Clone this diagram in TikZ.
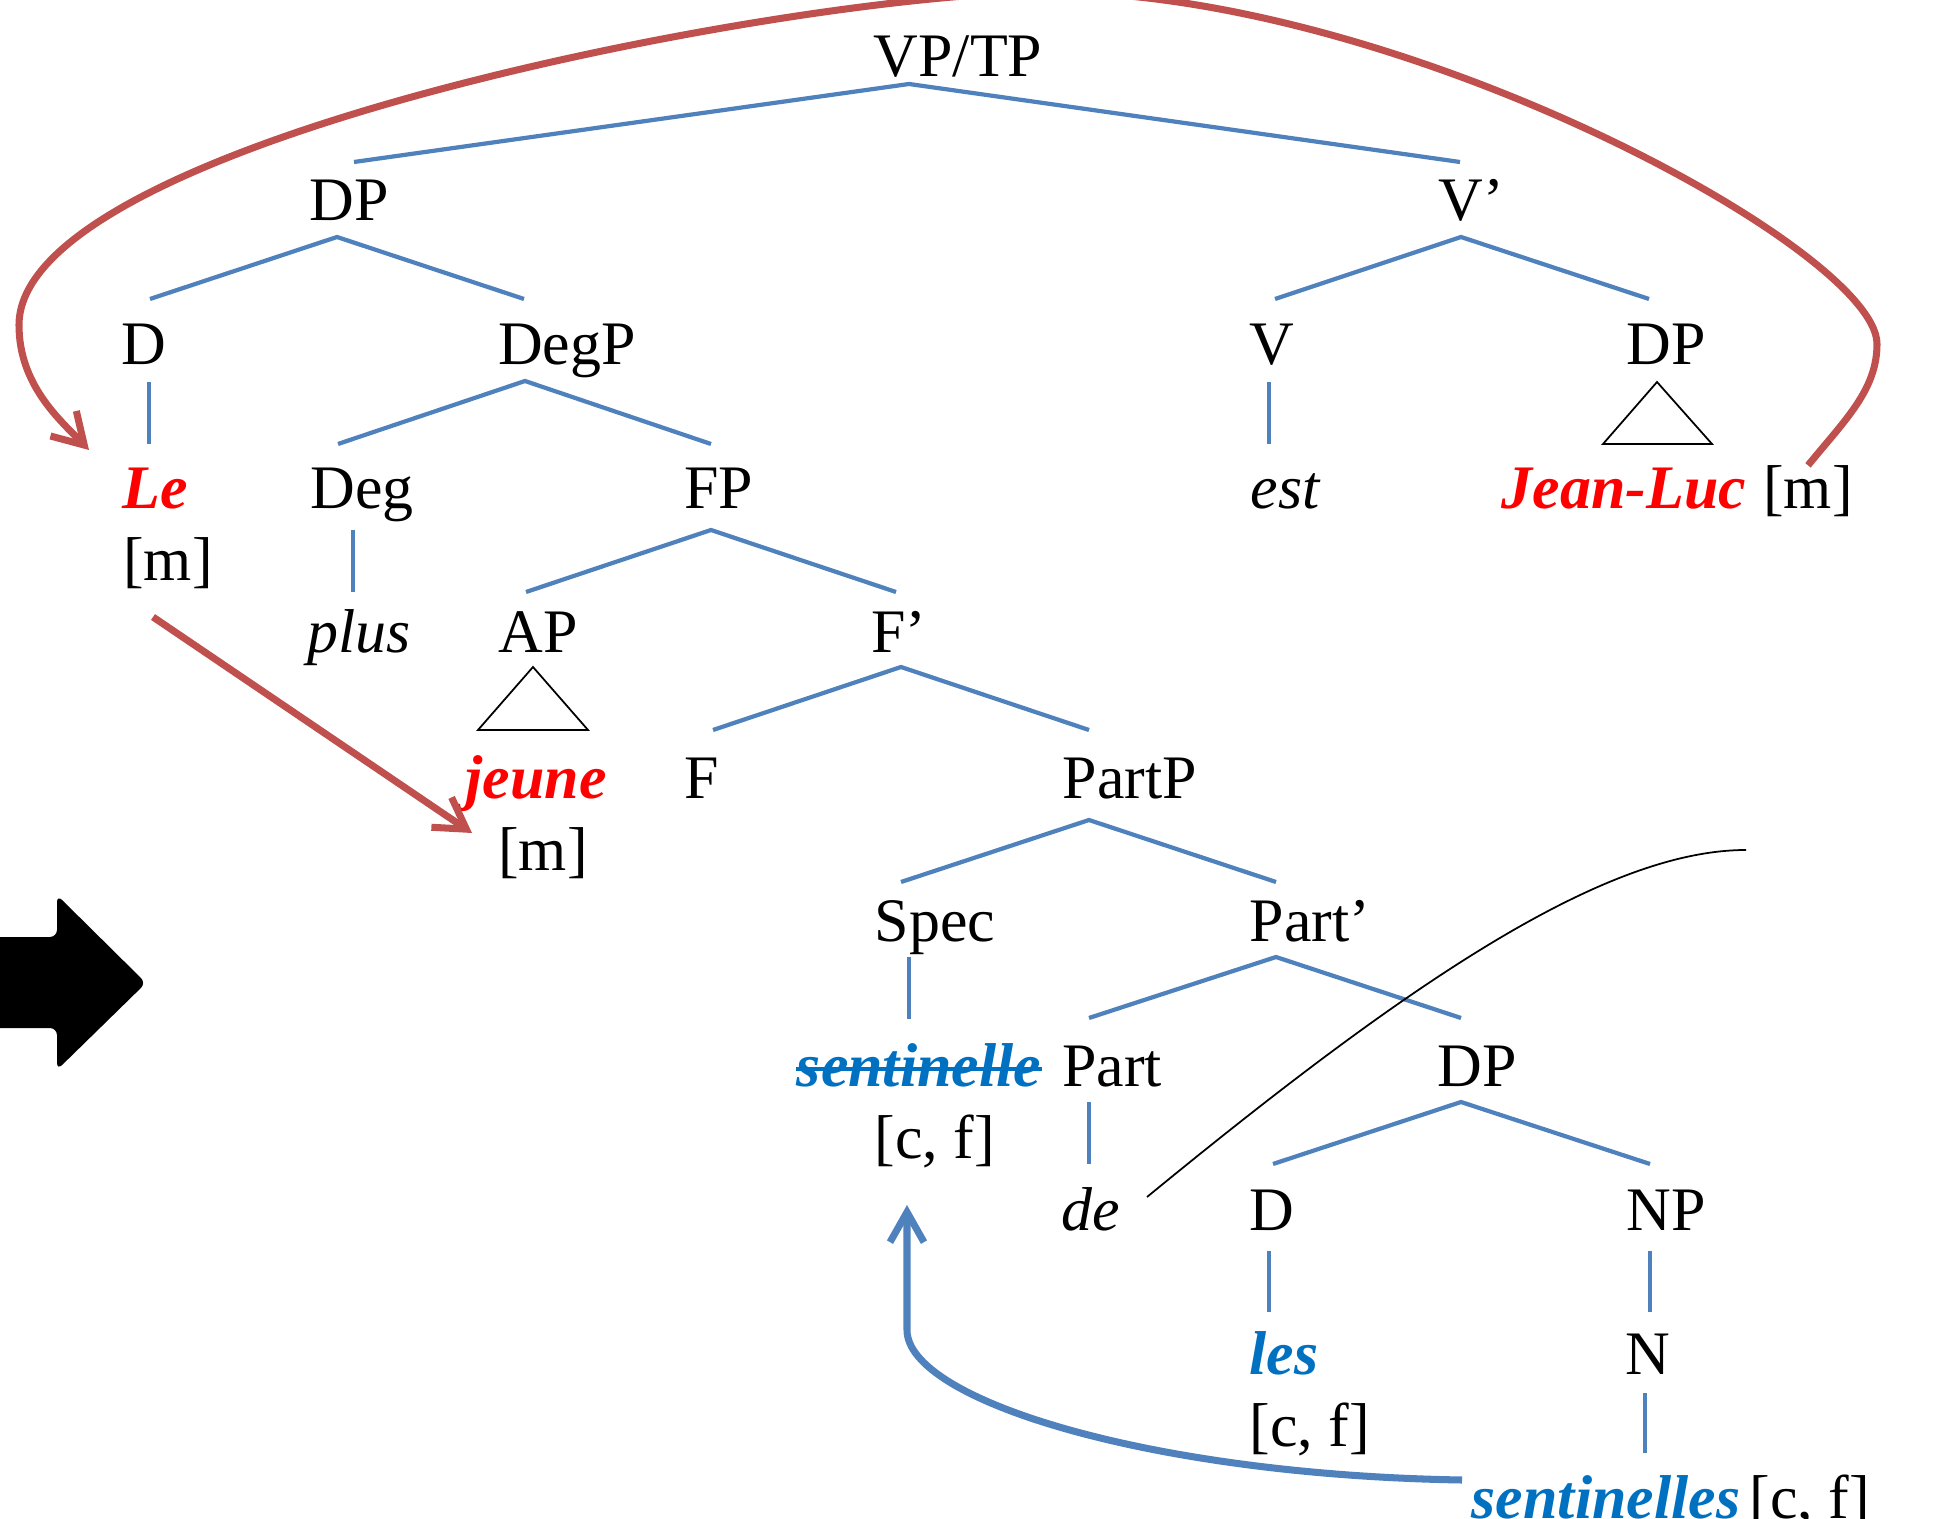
\documentclass[tikz,border=0pt]{standalone}
\usepackage{fontspec}
\setmainfont{Liberation Serif}
\usetikzlibrary{arrows.meta}
\definecolor{brRed}{HTML}{C0504D}
\definecolor{brBlue}{HTML}{4F81BD}
\definecolor{txtBlue}{HTML}{0070C0}
\definecolor{txtRed}{HTML}{FF0000}
\begin{document}
\begin{tikzpicture}[x=0.01cm, y=-0.01cm,
  lab/.style={anchor=base, inner sep=0pt, font=\fontsize{17.6}{21}\selectfont},
  itl/.style={lab, font=\fontsize{17.6}{21}\selectfont\itshape},
  redw/.style={lab, text=txtRed, font=\fontsize{17.6}{21}\selectfont\bfseries\itshape},
  bluew/.style={lab, text=txtBlue, font=\fontsize{17.6}{21}\selectfont\bfseries\itshape},
  br/.style={draw=brBlue, line width=1.2pt},
  tri/.style={draw=black, line width=0.5pt},
  redarrow/.style={draw=brRed, line width=2pt, -{Straight Barb[length=3mm, width=3.6mm]}},
  bluearrow/.style={draw=brBlue, line width=2pt, -{Straight Barb[length=3mm, width=3.4mm]}},
  thincurve/.style={draw=black, line width=0.5pt}]
\useasboundingbox (0,0) rectangle (1942,1519);

% ---------- labels ----------
\node[lab] (VPTP) at (958,77) {VP/TP};
\node[lab] (DP1) at (349,221) {DP};
\node[lab] (Vbar) at (1471,221) {V’};
\node[lab] (D1) at (144,365) {D};
\node[lab] (DegP) at (567,365) {DegP};
\node[lab] (V) at (1272,365) {V};
\node[lab] (DP2) at (1666,365) {DP};
\node[redw] (Le) at (155,509) {Le};
\node[lab] (Lem) at (168,581) {[m]};
\node[lab] (Deg) at (362,509) {Deg};
\node[lab] (FP) at (719,509) {FP};
\node[itl] (est) at (1285,509) {est};
\node[redw] (JL) at (1624,509) {Jean-Luc};
\node[lab] (JLm) at (1808,509) {[m]};
\node[itl] (plus) at (359,653) {plus};
\node[lab] (AP) at (538,653) {AP};
\node[lab] (Fbar) at (899,653) {F’};
\node[redw] (jeune) at (536,798) {jeune};
\node[lab] (jm) at (543,870) {[m]};
\node[lab] (F) at (702,798) {F};
\node[lab] (PartP) at (1130,798) {PartP};
\node[lab] (Spec) at (935,942) {Spec};
\node[lab] (Partbar) at (1310,942) {Part’};
\node[bluew] (sent) at (919,1086) {sentinelle};
\node[lab] (sentcf) at (935,1158) {[c, f]};
\node[lab] (Part) at (1112,1086) {Part};
\node[lab] (DP3) at (1477,1086) {DP};
\node[itl] (de) at (1091,1230) {de};
\node[lab] (D3) at (1272,1230) {D};
\node[lab] (NP) at (1666,1230) {NP};
\node[bluew] (les) at (1284,1374) {les};
\node[lab] (lescf) at (1310,1446) {[c, f]};
\node[lab] (N) at (1648,1374) {N};
\node[bluew] (sents) at (1606,1518) {sentinelles};
\node[lab] (sentscf) at (1810,1518) {[c, f]};

% strike-through of the trace
\coordinate (strikeY) at (0,1069);
\draw[txtBlue, line width=1.1pt] (sent.west |- strikeY) -- (sent.east |- strikeY);

% ---------- tree skeleton points ----------
\coordinate (VPTP-b) at (909,84);
\coordinate (DP1-t) at (354,162);   \coordinate (DP1-b) at (337,237);
\coordinate (Vbar-t) at (1460,162); \coordinate (Vbar-b) at (1461,237);
\coordinate (D1-t) at (150,299);    \coordinate (D1-b) at (149,382);
\coordinate (DegP-t) at (524,299);  \coordinate (DegP-b) at (525,381);
\coordinate (V-t) at (1275,299);    \coordinate (V-b) at (1269,382);
\coordinate (DP2-t) at (1649,299);  \coordinate (DP2-b) at (1657,382);
\coordinate (DP2-l) at (1603,444);  \coordinate (DP2-r) at (1712,444);
\coordinate (Le-t) at (149,444);
\coordinate (Deg-t) at (338,444);   \coordinate (Deg-b) at (353,530);
\coordinate (FP-t) at (711,444);    \coordinate (FP-b) at (711,530);
\coordinate (est-t) at (1269,444);
\coordinate (plus-t) at (353,592);
\coordinate (AP-t) at (526,592);    \coordinate (AP-b) at (533,667);
\coordinate (AP-l) at (478,730);    \coordinate (AP-r) at (588,730);
\coordinate (Fbar-t) at (896,592);  \coordinate (Fbar-b) at (901,667);
\coordinate (F-t) at (713,730);
\coordinate (PartP-t) at (1089,730); \coordinate (PartP-b) at (1089,820);
\coordinate (Spec-t) at (901,882);  \coordinate (Spec-b) at (909,957);
\coordinate (Partbar-t) at (1276,882); \coordinate (Partbar-b) at (1276,957);
\coordinate (sent-t) at (909,1019);
\coordinate (Part-t) at (1089,1018); \coordinate (Part-b) at (1089,1102);
\coordinate (DP3-t) at (1461,1018); \coordinate (DP3-b) at (1461,1102);
\coordinate (de-t) at (1089,1164);
\coordinate (D3-t) at (1273,1164);  \coordinate (D3-b) at (1269,1251);
\coordinate (NP-t) at (1650,1164);  \coordinate (NP-b) at (1650,1251);
\coordinate (les-t) at (1269,1312);
\coordinate (N-t) at (1650,1312);   \coordinate (N-b) at (1645,1393);
\coordinate (sents-t) at (1645,1453);

% ---------- branches ----------
\draw[br] (DP1-t) -- (VPTP-b) -- (Vbar-t);
\draw[br] (D1-t) -- (DP1-b) -- (DegP-t);
\draw[br] (V-t) -- (Vbar-b) -- (DP2-t);
\draw[br] (D1-b) -- (Le-t);
\draw[br] (Deg-t) -- (DegP-b) -- (FP-t);
\draw[br] (V-b) -- (est-t);
\draw[tri] (DP2-b) -- (DP2-l) -- (DP2-r) -- cycle;
\draw[br] (Deg-b) -- (plus-t);
\draw[br] (AP-t) -- (FP-b) -- (Fbar-t);
\draw[tri] (AP-b) -- (AP-l) -- (AP-r) -- cycle;
\draw[br] (F-t) -- (Fbar-b) -- (PartP-t);
\draw[br] (Spec-t) -- (PartP-b) -- (Partbar-t);
\draw[br] (Spec-b) -- (sent-t);
\draw[br] (Part-t) -- (Partbar-b) -- (DP3-t);
\draw[br] (Part-b) -- (de-t);
\draw[br] (D3-t) -- (DP3-b) -- (NP-t);
\draw[br] (D3-b) -- (les-t);
\draw[br] (NP-b) -- (N-t);
\draw[br] (N-b) -- (sents-t);

% ---------- arrows ----------
\coordinate (redtip) at (89,450);
\draw[redarrow] (JLm.north) .. controls (1845,420) and (1877,390) .. (1877,344)
  .. controls (1877,250) and (1400,-8) .. (1050,-8)
  .. controls (800,-8) and (19,140) .. (19,325)
  .. controls (19,385) and (60,420) .. (redtip);

\coordinate (lestart) at (153,617);
\coordinate (letip) at (472,833);
\draw[redarrow] (lestart) -- (letip);

\coordinate (bstart) at (1462,1480);
\coordinate (btip) at (907,1205);
\draw[bluearrow] (bstart) .. controls (1150,1475) and (907,1400) .. (907,1330) -- (btip);

\coordinate (cstart) at (1147,1197);
\coordinate (cend) at (1746,850);
\draw[thincurve] (cstart) .. controls (1397,992) and (1600,850) .. (cend);

% ---------- block arrow ----------
\fill[black, rounded corners=2] (-10,937) -- (57,937) -- (57,895) -- (146,983)
  -- (57,1070) -- (57,1028) -- (-10,1028) -- cycle;
\end{tikzpicture}
\end{document}
